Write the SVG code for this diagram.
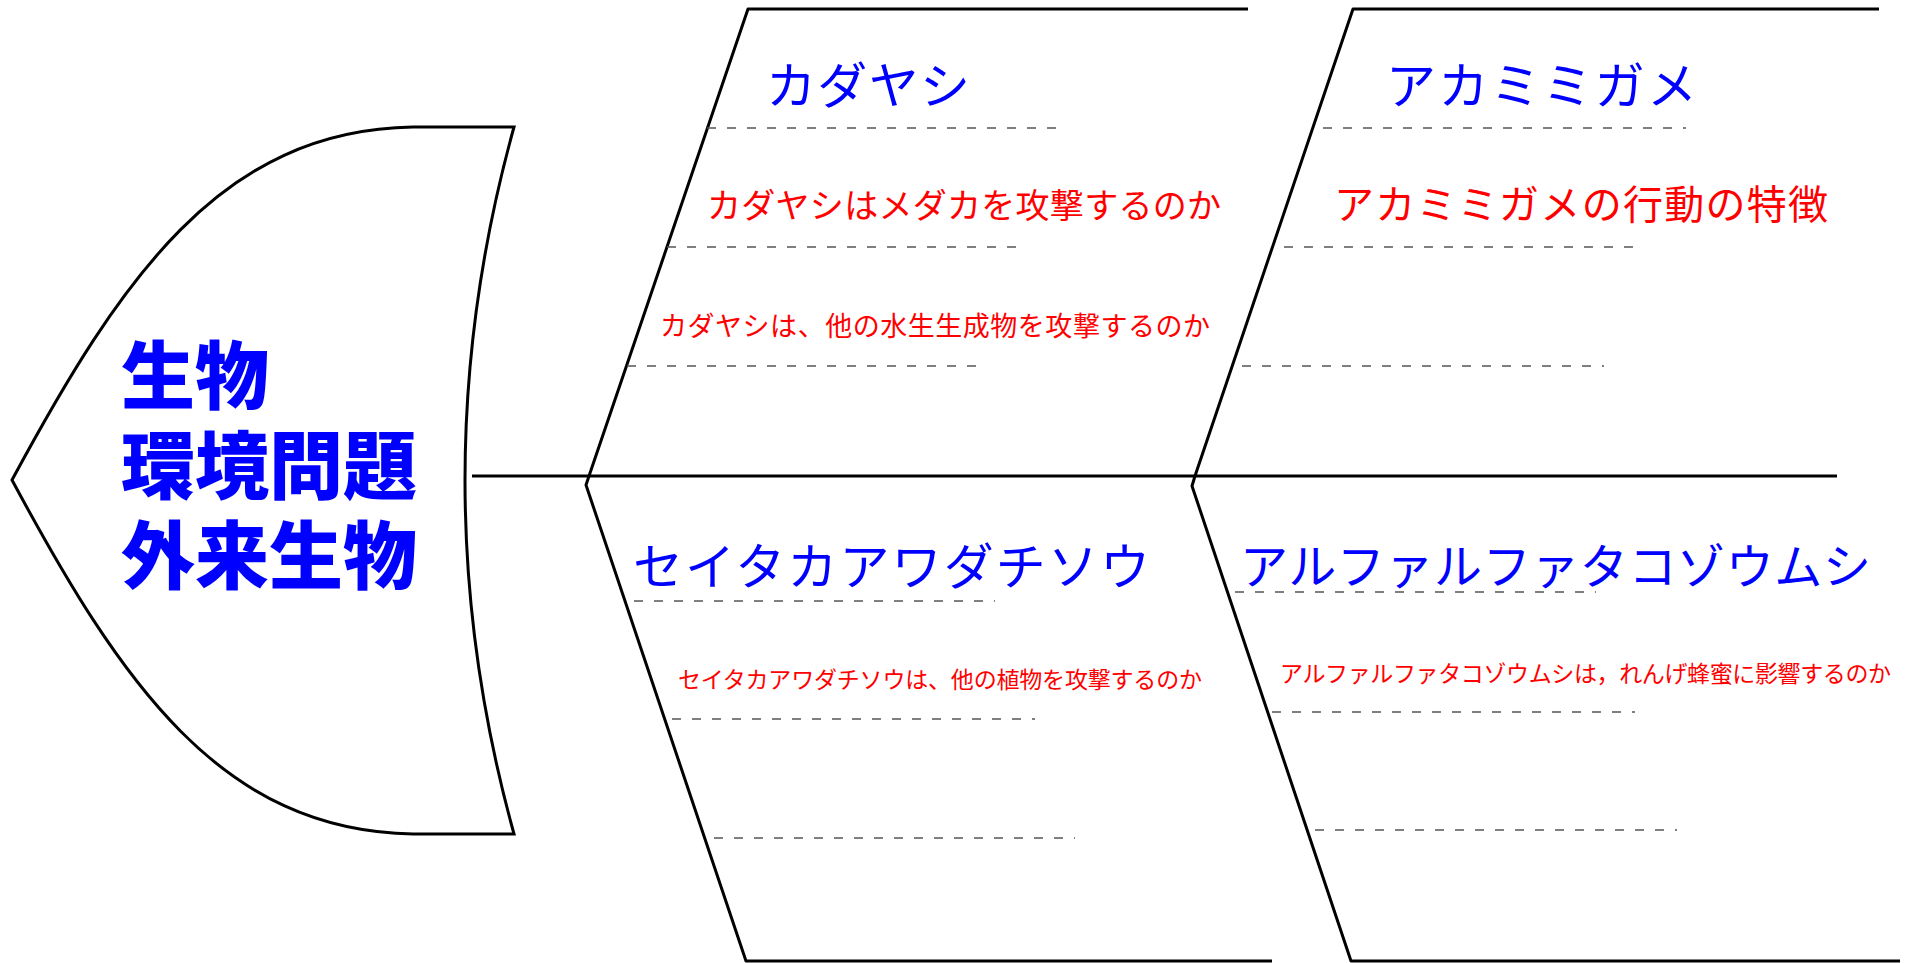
<svg xmlns="http://www.w3.org/2000/svg" width="1905" height="963" viewBox="0 0 1905 963">
<style>
.bone{fill:none;stroke:#000;stroke-width:3;stroke-linejoin:round}
.dash{fill:none;stroke:#555;stroke-width:1.5;stroke-dasharray:9 11}
.title{font-family:"Noto Sans CJK JP",sans-serif;fill:#0000ff;font-weight:400}
.sub{font-family:"Noto Sans CJK JP",sans-serif;fill:#ff0000;font-weight:400}
.head{font-family:"Noto Sans CJK JP",sans-serif;fill:#0000ff;font-weight:900;font-size:74px}
</style>
<rect width="1905" height="963" fill="#fff"/>
<g id="head">
<path d="M413,127 C220,130 120,280 12,480 C120,681 220,831 413,834 L514,834 Q416,480 514,127 Z" fill="#fff" stroke="#000" stroke-width="3" stroke-linejoin="miter"/>
<text class="head" x="121" y="403">生物</text>
<text class="head" x="121" y="493">環境問題</text>
<text class="head" x="121" y="583">外来生物</text>
</g>
<g id="connectors">
<line class="bone" x1="472" y1="476" x2="1837" y2="476"/>
<path class="bone" d="M589,476 L748,9 L1248,9"/>
<path class="bone" d="M1195,476 L1353,9 L1879,9"/>
<path class="bone" d="M589,476 L586,485 L746,961 L1272,961"/>
<path class="bone" d="M1195,476 L1192,486 L1351,961 L1900,961"/>
</g>
<g id="kadayashi">
<text class="title" x="766" y="104" font-size="50" textLength="204">カダヤシ</text>
<line class="dash" x1="707" y1="128" x2="1066" y2="128"/>
<text class="sub" x="707" y="218" font-size="34" textLength="514">カダヤシはメダカを攻撃するのか</text>
<line class="dash" x1="667" y1="247" x2="1026" y2="247"/>
<text class="sub" x="660" y="336" font-size="27" textLength="550">カダヤシは、他の水生生成物を攻撃するのか</text>
<line class="dash" x1="627" y1="366" x2="986" y2="366"/>
</g>
<g id="akamimigame">
<text class="title" x="1386" y="104" font-size="50" textLength="311">アカミミガメ</text>
<line class="dash" x1="1323" y1="128" x2="1686" y2="128"/>
<text class="sub" x="1334" y="219" font-size="40" textLength="494">アカミミガメの行動の特徴</text>
<line class="dash" x1="1284" y1="247" x2="1644" y2="247"/>
<line class="dash" x1="1242" y1="366" x2="1604" y2="366"/>
</g>
<g id="seitakaawadachisou">
<text class="title" x="633" y="585" font-size="50" textLength="517">セイタカアワダチソウ</text>
<line class="dash" x1="634" y1="601" x2="995" y2="601"/>
<text class="sub" x="678" y="688" font-size="23" textLength="524">セイタカアワダチソウは、他の植物を攻撃するのか</text>
<line class="dash" x1="672" y1="719" x2="1035" y2="719"/>
<line class="dash" x1="714" y1="838" x2="1075" y2="838"/>
</g>
<g id="alfalfa">
<text class="title" x="1240" y="584" font-size="48" textLength="631">アルファルファタコゾウムシ</text>
<line class="dash" x1="1235" y1="592" x2="1596" y2="592"/>
<text class="sub" x="1280" y="682" font-size="23" textLength="611">アルファルファタコゾウムシは，れんげ蜂蜜に影響するのか</text>
<line class="dash" x1="1272" y1="712" x2="1635" y2="712"/>
<line class="dash" x1="1315" y1="830" x2="1677" y2="830"/>
</g>
</svg>
